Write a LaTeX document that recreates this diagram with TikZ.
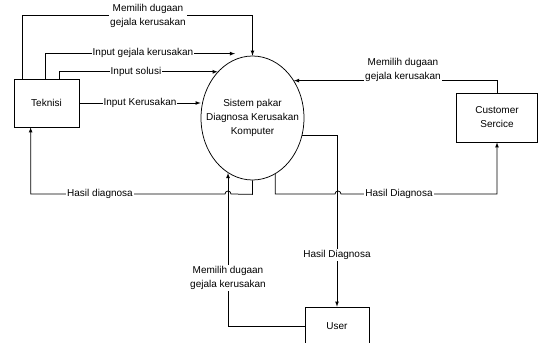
\documentclass[tikz,border=0pt]{standalone}
\usepackage{fontspec}
\setmainfont{Liberation Sans}
\usetikzlibrary{shapes,arrows,positioning}

\begin{document}
\begin{tikzpicture}[
    x=1pt, y=-1pt, line width=0.75pt,
    entity/.style={draw, minimum width=65pt, minimum height=48pt, inner sep=0pt, align=center, font=\fontsize{10}{14}\selectfont},
    process/.style={draw, ellipse, minimum width=103pt, minimum height=124pt, inner sep=0pt},
    flow/.style={fill=white, inner sep=1pt, align=center, font=\fontsize{10}{14}\selectfont},
    arrow/.style={->, >=latex}
]

\useasboundingbox (0,0) rectangle (539,343);

% Process
\node[process] (sistem) at (252.5,118) {};
\node[align=center, font=\fontsize{10}{14}\selectfont] (sistemtext) at (sistem.center) {Sistem pakar\\Diagnosa Kerusakan\\Komputer};

% External entities
\node[entity] (teknisi) at (46.5,103) {Teknisi};
\node[entity, minimum width=81pt, minimum height=49pt] (customer) at (497,117.5) {Customer\\Sercice};
\node[entity, minimum width=64pt, minimum height=38pt] (user) at (337,326) {User};

% Teknisi to sistem
\draw[arrow] ([xshift=9pt]teknisi.north west) -- ++(0,-63) -| (sistem.north);
\draw[arrow] ([xshift=32pt]teknisi.north west) |- ([xshift=-17.5pt,yshift=2pt]sistem.north);
\draw[arrow] ([xshift=46pt]teknisi.north west) |- (sistem.127);
\draw[arrow] (teknisi.east) -- (teknisi.east -| sistem.west);

% Sistem to Teknisi
\draw[arrow] (sistem.south) -- ++(0,14) -- (231,194) arc[start angle=0, end angle=180, radius=3pt] -| ([xshift=17pt]teknisi.south west);

% Customer Service
\draw[arrow] (sistem.-68) |- (335,194) arc[start angle=180, end angle=0, radius=3pt] -| (customer.south);
\draw[arrow] (customer.north) |- (sistem.42);

% User
\draw[arrow] (sistem.-19) -| (user.north);
\draw[arrow] (user.west) -| (sistem.246);

% Labels
\node[flow] (lblmemilih1) at (148,16) {Memilih dugaan\\gejala kerusakan};
\node[flow] (lblgejala) at (143,53) {Input gejala kerusakan};
\node[flow] (lblsolusi) at (136,72) {Input solusi};
\node[flow] (lblkerusakan) at (140,103) {Input Kerusakan};
\node[flow] (lblhasil1) at (100,194) {Hasil diagnosa};
\node[flow] (lblhasil2) at (399,194) {Hasil Diagnosa};
\node[flow] (lblhasil3) at (337,255) {Hasil Diagnosa};
\node[flow] (lblmemilih2) at (403,70) {Memilih dugaan\\gejala kerusakan};
\node[flow] (lblmemilih3) at (228,278) {Memilih dugaan\\gejala kerusakan};

\end{tikzpicture}
\end{document}
